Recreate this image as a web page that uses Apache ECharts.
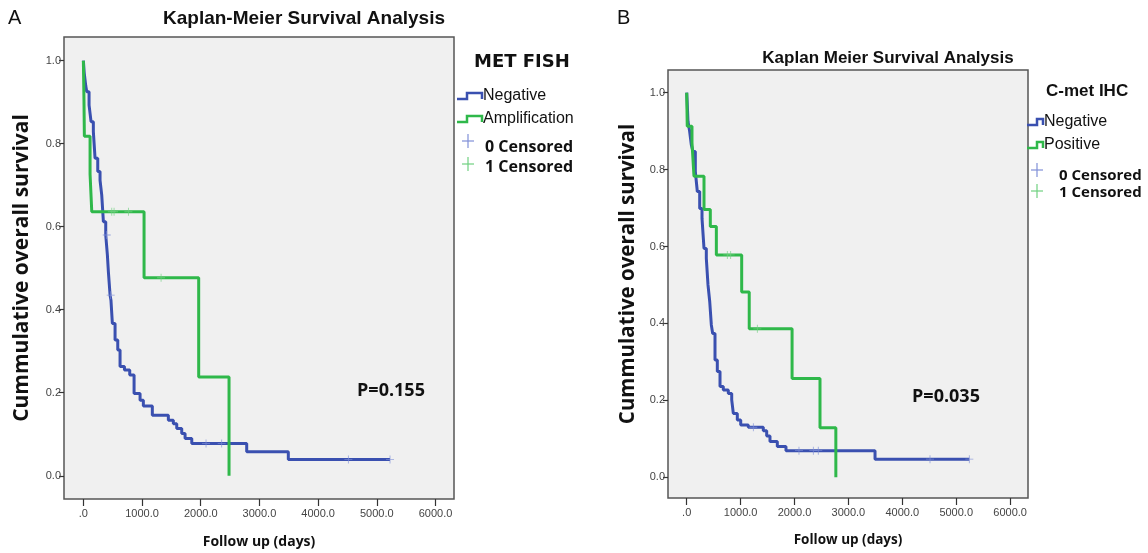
<!DOCTYPE html>
<html>
<head>
<meta charset="utf-8">
<script src="https://cdn.jsdelivr.net/npm/echarts@6/dist/echarts.min.js"></script>
<style>
  html, body { margin: 0; padding: 0; background: #fff; }
  #chart { width: 1148px; height: 553px; }
</style>
</head>
<body>
<div id="chart"></div>
<script>
// Panel A: MET FISH, Kaplan-Meier steps [days, survival]
const negativeA = [
  [0, 1.0], [15, 0.97], [40, 0.94], [58, 0.925], [97, 0.893], [131, 0.853], [170, 0.829],
  [199, 0.765], [245, 0.733], [284, 0.712], [313, 0.676], [341, 0.612], [381, 0.58],
  [409, 0.532], [426, 0.492], [455, 0.435], [470, 0.423], [494, 0.367], [540, 0.327],
  [586, 0.303], [625, 0.263], [700, 0.255], [790, 0.243], [864, 0.198], [966, 0.182],
  [1022, 0.168], [1175, 0.146], [1448, 0.134], [1533, 0.125], [1591, 0.114], [1676, 0.102],
  [1733, 0.09], [1847, 0.078], [2783, 0.058], [3492, 0.039], [5225, 0.039]
]
const amplificationA = [
  [0, 1.0], [10, 0.909], [17, 0.818], [114, 0.727], [143, 0.636], [1034, 0.477],
  [1965, 0.238], [2482, 0.0]
]
const censoredNegA = [[398, 0.58], [466, 0.435], [2090, 0.078], [2357, 0.078], [4515, 0.039], [5225, 0.039]]
const censoredAmpA = [[484, 0.636], [523, 0.636], [767, 0.636], [1324, 0.477]]

// Panel B: C-met IHC
const negativeB = [
  [0, 1.0], [11, 0.968], [24, 0.925], [55, 0.899], [86, 0.864], [117, 0.847], [160, 0.795],
  [197, 0.743], [241, 0.699], [284, 0.673], [321, 0.595], [364, 0.569], [395, 0.5],
  [427, 0.457], [457, 0.396], [482, 0.374], [525, 0.305], [568, 0.275], [618, 0.236],
  [679, 0.227], [772, 0.218], [835, 0.201], [865, 0.166], [939, 0.149], [1002, 0.136],
  [1143, 0.13], [1421, 0.121], [1484, 0.107], [1545, 0.093], [1681, 0.08], [1842, 0.069],
  [3494, 0.047], [5243, 0.047]
]
const positiveB = [
  [0, 1.0], [5, 0.956], [10, 0.913], [98, 0.87], [135, 0.783], [321, 0.696], [438, 0.652],
  [550, 0.578], [1020, 0.482], [1160, 0.386], [1955, 0.257], [2473, 0.129], [2767, 0.0]
]
const censoredNegB = [[1236, 0.13], [2083, 0.069], [2349, 0.069], [2441, 0.069], [4514, 0.047], [5243, 0.047]]
const censoredPosB = [[753, 0.578], [816, 0.578], [1310, 0.386]]

const xTicks = [0, 1000, 2000, 3000, 4000, 5000, 6000]
const yTicks = [0, 0.2, 0.4, 0.6, 0.8, 1.0]

const BLUE = '#3a50b0'
const GREEN = '#2fb84a'
const BLUE_LIGHT = '#8090d8'
const GREEN_LIGHT = '#70d080'
const CROSS = 'path://M4.5,0h1v4.5h4.5v1h-4.5v4.5h-1v-4.5h-4.5v-1h4.5z'
const tickFont = "'Liberation Sans Narrow', 'Liberation Sans', Arial, sans-serif"
const boldFont = "'Open Sans', 'Noto Sans', sans-serif"

function xAxisFor(gridIndex, min, max) {
  return {
    type: 'value', gridIndex, min, max,
    axisLine: { show: false, onZero: false },
    splitLine: { show: false },
    axisTick: { show: true, length: 7, customValues: xTicks, lineStyle: { color: '#333', width: 1.2 } },
    axisLabel: {
      customValues: xTicks, margin: 9, fontSize: 11, color: '#444', fontFamily: tickFont,
      formatter: (v) => (v === 0 ? '.0' : v.toFixed(1)),
    },
  }
}

function yAxisFor(gridIndex, min, max) {
  return {
    type: 'value', gridIndex, min, max,
    axisLine: { show: false, onZero: false },
    splitLine: { show: false },
    axisTick: { show: true, length: 5, customValues: yTicks, lineStyle: { color: '#333', width: 1.2 } },
    axisLabel: {
      customValues: yTicks, margin: 3, fontSize: 11, color: '#444', fontFamily: tickFont,
      formatter: (v) => v.toFixed(1),
    },
  }
}

function stepLine(data, color, idx) {
  return {
    type: 'line', step: 'end', data, xAxisIndex: idx, yAxisIndex: idx,
    showSymbol: false, symbol: 'none', animation: false,
    lineStyle: { color, width: 3 },
  }
}

function censorSeries(data, color, idx) {
  return {
    type: 'scatter', data, xAxisIndex: idx, yAxisIndex: idx, symbol: CROSS, symbolSize: 8,
    animation: false, itemStyle: { color, opacity: 0.8 }, z: 3,
  }
}

function legendBlock(x0, y0, title, titleFont, names, rows) {
  const items = [{
    type: 'text', x: x0 + title.dx, y: y0,
    style: { text: title.text, font: titleFont, fill: '#111', verticalAlign: 'middle' },
  }]
  names.forEach((n, i) => {
    const y = rows.line[i]
    const color = i === 0 ? BLUE : GREEN
    items.push({
      type: 'polyline',
      shape: { points: [[x0, y + 3], [x0 + 10, y + 3], [x0 + 10, y - 3], [x0 + rows.iconW, y - 3], [x0 + rows.iconW, y + 3]] },
      style: { stroke: color, lineWidth: 2.5, fill: null },
    })
    items.push({
      type: 'text', x: x0 + rows.iconW + 1, y,
      style: { text: n, font: rows.nameFont, fill: '#111', verticalAlign: 'middle' },
    })
  })
  ;['0 Censored', '1 Censored'].forEach((n, i) => {
    const color = i === 0 ? BLUE_LIGHT : GREEN_LIGHT
    const cy = rows.cross[i]
    const cx = x0 + rows.crossDx
    items.push({ type: 'line', shape: { x1: cx - 6, y1: cy, x2: cx + 6, y2: cy }, style: { stroke: color, lineWidth: 1.2 } })
    items.push({ type: 'line', shape: { x1: cx, y1: cy - 7, x2: cx, y2: cy + 7 }, style: { stroke: color, lineWidth: 1.2 } })
    items.push({
      type: 'text', x: x0 + rows.censDx, y: rows.cens[i],
      style: { text: n, font: rows.censFont, fill: '#111', verticalAlign: 'middle' },
    })
  })
  return items
}

const chart = echarts.init(document.getElementById('chart'), null, { renderer: 'canvas' })

chart.setOption({
  backgroundColor: '#fff',
  animation: false,
  grid: [
    { left: 64, top: 37, width: 390, height: 462, show: true, backgroundColor: '#f0f0f0', borderColor: '#555', borderWidth: 1.5 },
    { left: 668, top: 70, width: 360, height: 428, show: true, backgroundColor: '#f0f0f0', borderColor: '#555', borderWidth: 1.5 },
  ],
  xAxis: [xAxisFor(0, -330, 6315), xAxisFor(1, -347, 6332)],
  yAxis: [yAxisFor(0, -0.056, 1.057), yAxisFor(1, -0.054, 1.059)],
  series: [
    stepLine(negativeA, BLUE, 0),
    stepLine(amplificationA, GREEN, 0),
    censorSeries(censoredNegA, BLUE_LIGHT, 0),
    censorSeries(censoredAmpA, GREEN_LIGHT, 0),
    stepLine(negativeB, BLUE, 1),
    stepLine(positiveB, GREEN, 1),
    censorSeries(censoredNegB, BLUE_LIGHT, 1),
    censorSeries(censoredPosB, GREEN_LIGHT, 1),
  ],
  graphic: [
    { type: 'text', x: 8, y: 18, style: { text: 'A', font: "20px 'Liberation Sans', Arial, sans-serif", fill: '#111', verticalAlign: 'middle' } },
    { type: 'text', x: 617, y: 18, style: { text: 'B', font: "20px 'Liberation Sans', Arial, sans-serif", fill: '#111', verticalAlign: 'middle' } },
    { type: 'text', x: 304, y: 19, style: { text: 'Kaplan-Meier Survival Analysis', font: `bold 19px ${tickFont}`, fill: '#111', align: 'center', verticalAlign: 'middle' } },
    { type: 'text', x: 888, y: 58, style: { text: 'Kaplan Meier Survival Analysis', font: `bold 17px ${tickFont}`, fill: '#111', align: 'center', verticalAlign: 'middle' } },
    { type: 'text', x: 22, y: 268, rotation: Math.PI / 2, style: { text: 'Cummulative overall survival', font: `bold 21px ${boldFont}`, fill: '#111', align: 'center', verticalAlign: 'middle' } },
    { type: 'text', x: 628, y: 274, rotation: Math.PI / 2, style: { text: 'Cummulative overall survival', font: `bold 20.5px ${boldFont}`, fill: '#111', align: 'center', verticalAlign: 'middle' } },
    { type: 'text', x: 259, y: 542, style: { text: 'Follow up (days)', font: `bold 14px ${boldFont}`, fill: '#111', align: 'center', verticalAlign: 'middle' } },
    { type: 'text', x: 848, y: 540, style: { text: 'Follow up (days)', font: `bold 13.5px ${boldFont}`, fill: '#111', align: 'center', verticalAlign: 'middle' } },
    { type: 'text', x: 391, y: 391, style: { text: 'P=0.155', font: `bold 18px ${boldFont}`, fill: '#111', align: 'center', verticalAlign: 'middle' } },
    { type: 'text', x: 946, y: 397, style: { text: 'P=0.035', font: `bold 18px ${boldFont}`, fill: '#111', align: 'center', verticalAlign: 'middle' } },
    ...legendBlock(457, 62, { text: 'MET FISH', dx: 17 }, "900 18px 'DejaVu Sans', sans-serif", ['Negative', 'Amplification'], {
      line: [96, 119], iconW: 25, nameFont: `16px ${tickFont}`, cross: [141, 164], crossDx: 11, cens: [147, 167], censDx: 28, censFont: `bold 16px ${boldFont}`,
    }),
    ...legendBlock(1027, 91, { text: 'C-met IHC', dx: 19 }, `bold 17px ${tickFont}`, ['Negative', 'Positive'], {
      line: [122, 145], iconW: 16, nameFont: `16px ${tickFont}`, cross: [170, 191], crossDx: 10, cens: [176, 193], censDx: 32, censFont: `bold 15px ${boldFont}`,
    }),
  ],
})
</script>
</body>
</html>
